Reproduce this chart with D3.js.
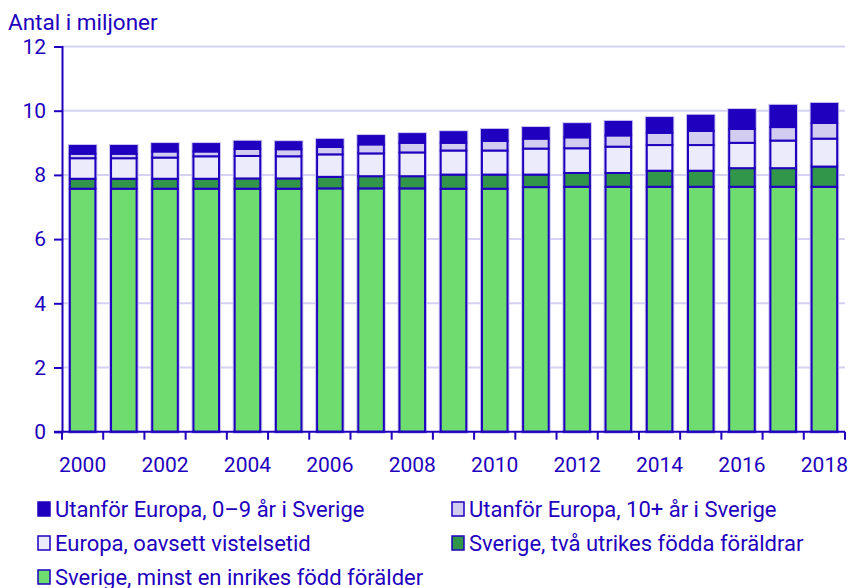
<!DOCTYPE html>
<html>
<head>
<meta charset="utf-8">
<script src="https://cdn.jsdelivr.net/npm/d3@7"></script>
<style>
  body { margin: 0; background: #fff; }
  svg text { font-family: Roboto, "Open Sans", sans-serif; fill: #1e00be; }
</style>
</head>
<body>
<div id="chart"></div>
<script>
// Data (millions)
const years = d3.range(2000, 2019);
const sverigeInrikes = [7.57, 7.57, 7.57, 7.57, 7.57, 7.57, 7.58, 7.58, 7.58, 7.57, 7.57, 7.62, 7.63, 7.63, 7.63, 7.63, 7.63, 7.63, 7.63];
const sverigeUtrikes = [0.31, 0.31, 0.31, 0.31, 0.32, 0.32, 0.36, 0.38, 0.38, 0.44, 0.44, 0.39, 0.43, 0.43, 0.50, 0.50, 0.58, 0.58, 0.63];
const europa = [0.64, 0.64, 0.66, 0.70, 0.70, 0.69, 0.70, 0.71, 0.74, 0.75, 0.75, 0.81, 0.77, 0.82, 0.80, 0.80, 0.79, 0.86, 0.87];
const utanfor10 = [0.14, 0.14, 0.19, 0.15, 0.22, 0.22, 0.23, 0.28, 0.30, 0.24, 0.30, 0.31, 0.34, 0.35, 0.38, 0.44, 0.43, 0.42, 0.49];
const utanfor09 = [0.24, 0.24, 0.23, 0.23, 0.22, 0.22, 0.22, 0.26, 0.27, 0.33, 0.34, 0.33, 0.41, 0.42, 0.46, 0.47, 0.59, 0.66, 0.59];
const yTicks = [0, 2, 4, 6, 8, 10, 12];

const series = [
  { key: "Sverige, minst en inrikes född förälder", values: sverigeInrikes, color: "#6edc6e" },
  { key: "Sverige, två utrikes födda föräldrar", values: sverigeUtrikes, color: "#32964a" },
  { key: "Europa, oavsett vistelsetid", values: europa, color: "#ecebfc" },
  { key: "Utanför Europa, 10+ år i Sverige", values: utanfor10, color: "#d2cdf0" },
  { key: "Utanför Europa, 0–9 år i Sverige", values: utanfor09, color: "#1e00be" }
];

const table = years.map((yr, i) => {
  const row = { year: yr };
  series.forEach(s => row[s.key] = s.values[i]);
  return row;
});

const width = 850, height = 588;
const margin = { top: 46.5, right: 5, bottom: 156.3, left: 62 };
const blue = "#1e00be";

const svg = d3.select("#chart")
  .append("svg")
  .attr("width", width)
  .attr("height", height);

const x = d3.scaleBand()
  .domain(years)
  .range([margin.left, width - margin.right])
  .paddingInner(0.38)
  .paddingOuter(0.19);

const y = d3.scaleLinear()
  .domain([0, 12])
  .range([height - margin.bottom, margin.top]);

// grid lines
svg.append("g")
  .selectAll("line")
  .data(yTicks.filter(d => d > 0))
  .join("line")
  .attr("x1", margin.left)
  .attr("x2", width - margin.right)
  .attr("y1", d => y(d))
  .attr("y2", d => y(d))
  .attr("stroke", "#d4d1f2")
  .attr("stroke-width", 2);

// stacked bars
const stack = d3.stack().keys(series.map(s => s.key));
const stacked = stack(table);
const color = d3.scaleOrdinal().domain(series.map(s => s.key)).range(series.map(s => s.color));

// soft halo around each bar
svg.append("g")
  .selectAll("rect")
  .data(table)
  .join("rect")
  .attr("x", d => x(d.year))
  .attr("width", x.bandwidth())
  .attr("y", d => y(d3.sum(series, s => d[s.key])))
  .attr("height", d => y(0) - y(d3.sum(series, s => d[s.key])))
  .attr("fill", "none")
  .attr("stroke", "#c9c2f0")
  .attr("stroke-width", 4);

svg.append("g")
  .selectAll("g")
  .data(stacked)
  .join("g")
  .attr("fill", d => color(d.key))
  .selectAll("rect")
  .data(d => d)
  .join("rect")
  .attr("x", d => x(d.data.year))
  .attr("width", x.bandwidth())
  .attr("y", d => y(d[1]))
  .attr("height", d => y(d[0]) - y(d[1]))
  .attr("stroke", blue)
  .attr("stroke-width", 2);

// y axis
const yAxis = svg.append("g")
  .attr("transform", `translate(${margin.left},0)`)
  .call(d3.axisLeft(y).tickValues(yTicks).tickSize(8).tickPadding(8));
yAxis.select(".domain").attr("stroke", blue).attr("stroke-width", 2);
yAxis.selectAll(".tick line").attr("stroke", blue).attr("stroke-width", 2);
yAxis.selectAll(".tick text")
  .style("font-size", "21px")
  .attr("fill", blue);

// x axis: ticks on band boundaries, labels every other year
const step = x.step();
const bounds = d3.range(years.length + 1).map(i => margin.left + i * step);
const xAxisG = svg.append("g");
xAxisG.append("line")
  .attr("x1", margin.left - 8)
  .attr("x2", width - margin.right)
  .attr("y1", y(0))
  .attr("y2", y(0))
  .attr("stroke", blue)
  .attr("stroke-width", 2);
xAxisG.selectAll("line.tk")
  .data(bounds)
  .join("line")
  .attr("class", "tk")
  .attr("x1", d => d)
  .attr("x2", d => d)
  .attr("y1", y(0))
  .attr("y2", y(0) + 8)
  .attr("stroke", blue)
  .attr("stroke-width", 2);
xAxisG.selectAll("text")
  .data(years.filter(d => d % 2 === 0))
  .join("text")
  .attr("x", d => x(d) + x.bandwidth() / 2)
  .attr("y", y(0) + 40)
  .attr("text-anchor", "middle")
  .style("font-size", "21px")
  .text(d => d);

// y axis title
svg.append("text")
  .attr("x", 8)
  .attr("y", 30)
  .style("font-size", "22.5px")
  .text("Antal i miljoner");

// legend
const legendItems = [series[4], series[3], series[2], series[1], series[0]];
const legend = svg.append("g")
  .selectAll("g")
  .data(legendItems)
  .join("g")
  .attr("transform", (d, i) => `translate(${i % 2 === 0 ? 38 : 452},${509 + Math.floor(i / 2) * 34})`);
legend.append("rect")
  .attr("x", 0)
  .attr("y", -7)
  .attr("width", 12)
  .attr("height", 14)
  .attr("fill", d => d.color)
  .attr("stroke", blue)
  .attr("stroke-width", 1.5);
legend.append("text")
  .attr("x", 17)
  .attr("y", 7.5)
  .style("font-size", "22px")
  .text(d => d.key);
</script>
</body>
</html>
